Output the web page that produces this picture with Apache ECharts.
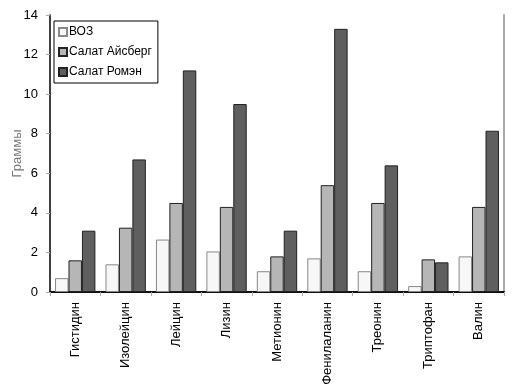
<!DOCTYPE html>
<html><head><meta charset="utf-8">
<script src="https://cdn.jsdelivr.net/npm/echarts@6/dist/echarts.min.js"></script>
<style>html,body{margin:0;padding:0;background:#fff}#c{width:532px;height:384px}</style>
</head><body><div id="c"></div>
<script>
const categories = ['Гистидин','Изолейцин','Лейцин','Лизин','Метионин','Фенилаланин','Треонин','Триптофан','Валин'];
const who = [0.7, 1.4, 2.65, 2.05, 1.05, 1.7, 1.05, 0.3, 1.8];
const iceberg = [1.6, 3.25, 4.5, 4.3, 1.8, 5.4, 4.5, 1.65, 4.3];
const romaine = [3.1, 6.7, 11.2, 9.5, 3.1, 13.3, 6.4, 1.5, 8.15];
const seriesNames = ['ВОЗ','Салат Айсберг','Салат Ромэн'];
const yTicks = {min: 0, max: 14, interval: 2};

const font = "'Liberation Sans Narrow', 'Arial Narrow', 'Liberation Sans', Arial, sans-serif";
const chart = echarts.init(document.getElementById('c'), null, {renderer: 'canvas'});
const colors = ['#f7f7f7', '#b6b6b6', '#5f5f5f'];
const data = [who, iceberg, romaine];
chart.setOption({
  animation: false,
  textStyle: {fontFamily: font},
  grid: {left: 50, right: 28, top: 15, bottom: 92, containLabel: false, outerBoundsMode: 'none'},
  legend: {
    orient: 'vertical', left: 54, top: 21, padding: [5, 6, 5, 4],
    borderColor: '#000', borderWidth: 1, backgroundColor: '#fff',
    icon: 'rect', itemWidth: 8, itemHeight: 8, itemGap: 8,
    textStyle: {fontFamily: font, fontSize: 12, color: '#000', padding: [0, 0, 0, -3]},
    data: seriesNames
  },
  xAxis: [{
    type: 'category', data: categories,
    axisLine: {lineStyle: {color: '#000', width: 1.5}},
    axisTick: {show: true, length: 4, lineStyle: {color: '#aaa'}},
    axisLabel: {rotate: 90, margin: 10, fontFamily: font, fontSize: 13, color: '#000', interval: 0}
  }, {
    type: 'category', data: categories, position: 'top',
    axisLine: {lineStyle: {color: '#000', width: 1.5}},
    axisTick: {show: false}, axisLabel: {show: false}
  }],
  yAxis: [{
    type: 'value', min: yTicks.min, max: yTicks.max, interval: yTicks.interval,
    name: 'Граммы', nameLocation: 'middle', nameGap: 26, nameRotate: 90, nameMoveOverlap: false,
    nameTextStyle: {fontFamily: font, fontSize: 13, color: '#777'},
    axisLine: {show: true, lineStyle: {color: '#000', width: 1.5}},
    axisTick: {show: true, length: 4, lineStyle: {color: '#aaa'}},
    axisLabel: {fontFamily: font, fontSize: 13, color: '#000', margin: 12},
    splitLine: {show: false}
  }, {
    type: 'value', min: yTicks.min, max: yTicks.max, interval: yTicks.interval, position: 'right',
    axisLine: {show: true, lineStyle: {color: '#aaa', width: 2}},
    axisTick: {show: false}, axisLabel: {show: false}, splitLine: {show: false}
  }],
  series: seriesNames.map((n, i) => ({
    name: n, type: 'bar', data: data[i],
    barGap: '0%', barCategoryGap: '20%',
    itemStyle: {color: colors[i], borderColor: i === 0 ? '#888' : '#222', borderWidth: 1}
  }))
});
</script></body></html>
